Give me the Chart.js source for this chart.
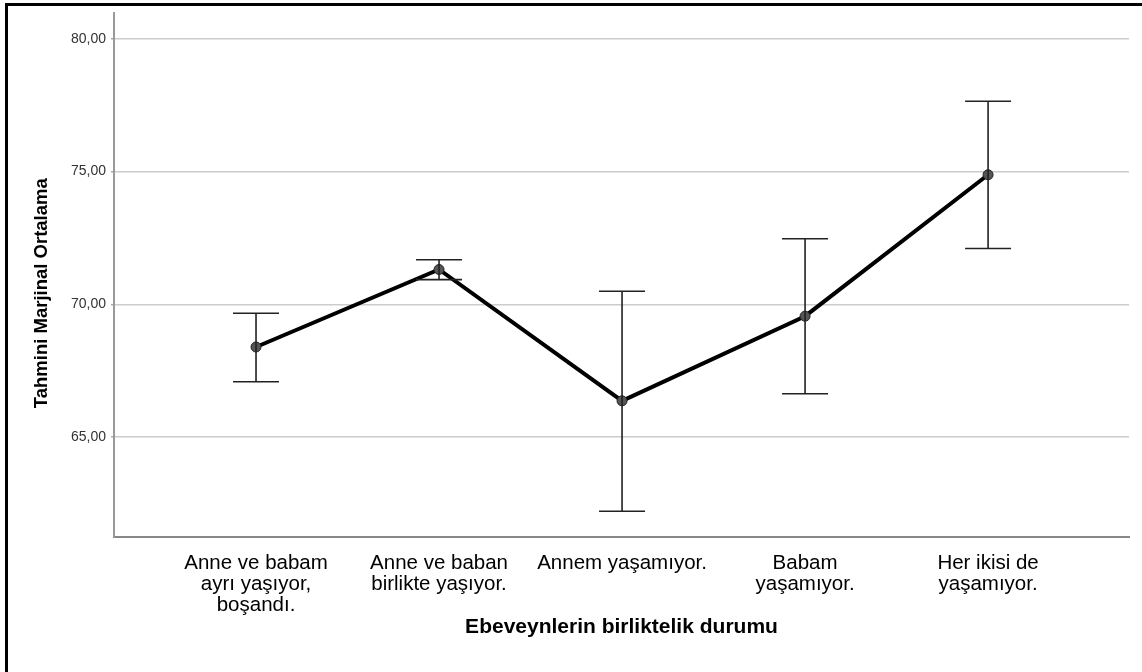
<!DOCTYPE html>
<html>
<head>
<meta charset="utf-8">
<script src="https://cdn.jsdelivr.net/npm/chart.js@4.4.0/dist/chart.umd.min.js"></script>
<style>
  body { margin: 0; background: #fff; }
  #wrap { position: relative; width: 1142px; height: 672px; }
  #frame { position: absolute; left: 5px; top: 3px; width: 1200px; height: 700px;
           border-left: 3px solid #000; border-top: 3px solid #000; pointer-events: none; }
</style>
</head>
<body>
<div id="wrap">
  <canvas id="myChart" width="1142" height="672"></canvas>
  <div id="frame"></div>
</div>
<script>
const categories = [
    ["Anne ve babam", "ayrı yaşıyor,", "boşandı."],
    ["Anne ve baban", "birlikte yaşıyor."],
    ["Annem yaşamıyor."],
    ["Babam", "yaşamıyor."],
    ["Her ikisi de", "yaşamıyor."]
]
const means = [68.39, 71.31, 66.36, 69.55, 74.88]
const lower = [67.08, 70.93, 62.20, 66.63, 72.10]
const upper = [69.66, 71.68, 70.49, 72.47, 77.65]
const yTicks = [65, 70, 75, 80]

const font = "'Liberation Sans', Arial, sans-serif"

// draws the error bars from lower/upper through the chart scales
const errorBars = {
    id: "errorBars",
    afterDatasetsDraw(chart) {
        const ctx = chart.ctx
        const xs = chart.scales.x
        const ys = chart.scales.y
        ctx.save()
        ctx.strokeStyle = "#222"
        ctx.lineWidth = 1.6
        means.forEach((m, i) => {
            const x = xs.getPixelForValue(i)
            const yLo = ys.getPixelForValue(lower[i])
            const yHi = ys.getPixelForValue(upper[i])
            ctx.beginPath()
            ctx.moveTo(x, yLo)
            ctx.lineTo(x, yHi)
            ctx.moveTo(x - 23, yLo)
            ctx.lineTo(x + 23, yLo)
            ctx.moveTo(x - 23, yHi)
            ctx.lineTo(x + 23, yHi)
            ctx.stroke()
        })
        ctx.restore()
    }
}

const ctx = document.getElementById("myChart").getContext("2d")
const chart = new Chart(ctx, {
    type: "line",
    data: {
        datasets: [
            {
                data: means.map((m, i) => ({ x: i, y: m })),
                borderColor: "#000",
                borderWidth: 4,
                pointRadius: 5,
                pointBackgroundColor: "#555",
                pointBorderColor: "#222",
                pointBorderWidth: 1,
                tension: 0
            }
        ]
    },
    options: {
        responsive: false,
        animation: false,
        layout: { padding: { left: 31, top: 13, right: 13, bottom: 32 } },
        plugins: { legend: { display: false }, tooltip: { enabled: false } },
        scales: {
            x: {
                type: "linear",
                min: -0.776,
                max: 4.77,
                afterBuildTicks: axis => { axis.ticks = categories.map((c, i) => ({ value: i })) },
                afterFit: axis => { axis.height = 103 },
                ticks: {
                    callback: v => categories[v],
                    color: "#000",
                    font: { family: font, size: 20.5, lineHeight: 1.03 },
                    padding: 8,
                    maxRotation: 0,
                    autoSkip: false
                },
                grid: { display: false },
                border: { color: "#888", width: 2 },
                title: {
                    display: true,
                    text: "Ebeveynlerin birliktelik durumu",
                    color: "#000",
                    font: { family: font, size: 21, weight: "bold" },
                    padding: 0
                }
            },
            y: {
                min: 61.23,
                max: 80.96,
                afterBuildTicks: axis => { axis.ticks = yTicks.map(v => ({ value: v })) },
                afterFit: axis => { axis.width = 83 },
                ticks: {
                    callback: v => v.toFixed(2).replace(".", ","),
                    color: "#333",
                    font: { family: font, size: 14 },
                    padding: 5
                },
                grid: { color: "#cccccc", lineWidth: 1.5, tickLength: 3, tickColor: "#aaa" },
                border: { color: "#999", width: 2 },
                title: {
                    display: true,
                    text: "Tahmini Marjinal Ortalama       ",
                    color: "#000",
                    font: { family: font, size: 18.5, weight: "bold" },
                    padding: 0
                }
            }
        }
    },
    plugins: [errorBars]
})
</script>
</body>
</html>
